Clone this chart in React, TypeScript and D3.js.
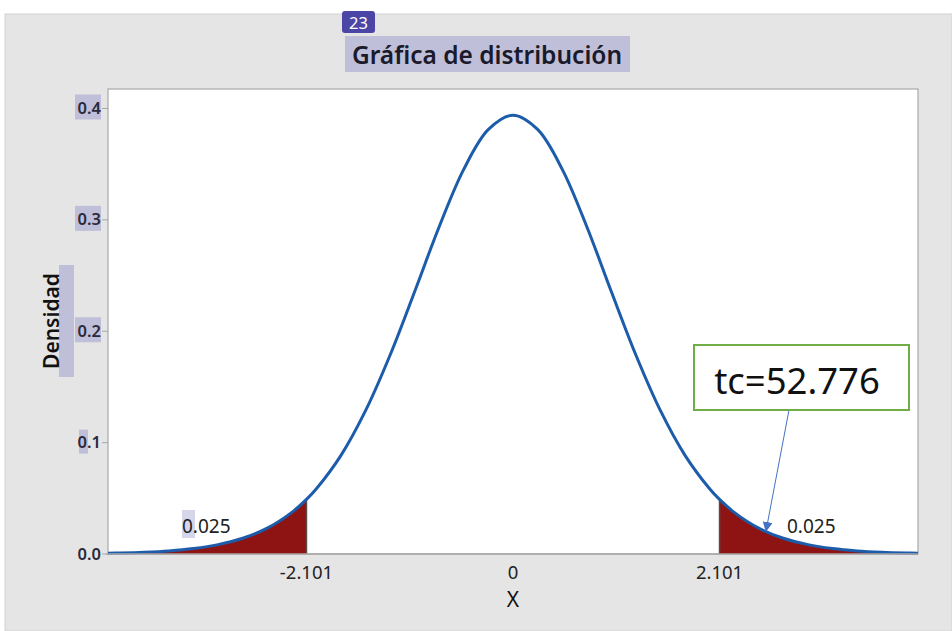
import React, { useEffect, useRef } from "react";
import * as d3 from "d3";

// t distribution, 18 df
const xValues = [
  -4.12, -4, -3.75, -3.5, -3.25, -3, -2.75, -2.5, -2.25, -2.101, -2, -1.75, -1.5, -1.25, -1, -0.75, -0.5, -0.25,
  0, 0.25, 0.5, 0.75, 1, 1.25, 1.5, 1.75, 2, 2.101, 2.25, 2.5, 2.75, 3, 3.25, 3.5, 3.75, 4, 4.12,
];
const densityValues = [
  0.0007, 0.0009, 0.0016, 0.0028, 0.0049, 0.0084, 0.0141, 0.0232, 0.0374, 0.049, 0.0586, 0.0886, 0.1287, 0.1787,
  0.2357, 0.2941, 0.3456, 0.3812, 0.394, 0.3812, 0.3456, 0.2941, 0.2357, 0.1787, 0.1287, 0.0886, 0.0586, 0.049,
  0.0374, 0.0232, 0.0141, 0.0084, 0.0049, 0.0028, 0.0016, 0.0009, 0.0007,
];
const yTicks = [0, 0.1, 0.2, 0.3, 0.4];
const xTicks = [-2.101, 0, 2.101];
const xTickLabels = ["-2.101", "0", "2.101"];
const critical = 2.101;
const tailLabel = "0.025";
const annotation = "tc=52.776";

const App = () => {
  const svgRef = useRef<SVGSVGElement>(null);
  const width = 952;
  const height = 631;

  useEffect(() => {
    const svg = d3.select(svgRef.current);
    svg.selectAll("*").remove();

    const plot = { left: 108, right: 918, top: 89, bottom: 554 };
    const font = "'Noto Sans', 'Open Sans', sans-serif";
    const hl = "#bfbfd9";

    const x = d3.scaleLinear().domain([-4.12, 4.12]).range([plot.left, plot.right]);
    const y = d3.scaleLinear().domain([0, 0.4]).range([plot.bottom, 108.5]);

    const pts = xValues.map((v, i) => ({ x: v, y: densityValues[i] }));

    // gray panel
    svg.append("rect").attr("width", width).attr("height", height).attr("fill", "#ffffff");
    svg.append("rect").attr("x", 5).attr("y", 14).attr("width", width - 5).attr("height", height - 14)
      .attr("fill", "#e5e5e5").attr("stroke", "#d2d2d2").attr("stroke-width", 1);

    // badge + title
    svg.append("rect").attr("x", 342).attr("y", 11).attr("width", 33).attr("height", 22).attr("rx", 3).attr("fill", "#4b45a6");
    svg.append("text").attr("x", 358.5).attr("y", 28.5).attr("text-anchor", "middle").attr("fill", "#fff")
      .attr("font-family", font).attr("font-size", 16.5).text("23");
    svg.append("rect").attr("x", 345).attr("y", 36).attr("width", 285).attr("height", 36).attr("fill", hl);
    svg.append("text").attr("x", 487).attr("y", 64).attr("text-anchor", "middle").attr("fill", "#1a1a2a")
      .attr("font-family", font).attr("font-weight", 600).attr("font-size", 24.5).text("Gráfica de distribución");

    // plot area
    svg.append("rect").attr("x", plot.left).attr("y", plot.top).attr("width", plot.right - plot.left)
      .attr("height", plot.bottom - plot.top).attr("fill", "#fff").attr("stroke", "#a8a8a8").attr("stroke-width", 1.2);

    // shaded tails
    const area = d3.area<{ x: number; y: number }>()
      .x((d) => x(d.x)).y0(y(0)).y1((d) => y(d.y)).curve(d3.curveCatmullRom);
    const leftTail = pts.filter((d) => d.x <= -critical);
    const rightTail = pts.filter((d) => d.x >= critical);
    [leftTail, rightTail].forEach((tail) => {
      svg.append("path").datum(tail).attr("d", area).attr("fill", "#8e1414");
    });
    [-critical, critical].forEach((c) => {
      const yv = densityValues[xValues.indexOf(c)];
      svg.append("line").attr("x1", x(c)).attr("x2", x(c)).attr("y1", y(0)).attr("y2", y(yv))
        .attr("stroke", "#5a4a4a").attr("stroke-width", 1.5);
    });

    // curve
    const line = d3.line<{ x: number; y: number }>().x((d) => x(d.x)).y((d) => y(d.y)).curve(d3.curveCatmullRom);
    svg.append("path").datum(pts).attr("d", line).attr("fill", "none")
      .attr("stroke", "#1c5caa").attr("stroke-width", 3);

    // x axis
    svg.append("line").attr("x1", plot.left - 2).attr("x2", plot.right).attr("y1", plot.bottom).attr("y2", plot.bottom)
      .attr("stroke", "#a8a8a8").attr("stroke-width", 1.5);
    xTicks.forEach((t, i) => {
      svg.append("text").attr("x", x(t)).attr("y", 579).attr("text-anchor", "middle").attr("fill", "#222")
        .attr("font-family", font).attr("font-size", 18.5).text(xTickLabels[i]);
    });
    svg.append("text").attr("x", x(0)).attr("y", 607).attr("text-anchor", "middle").attr("fill", "#111")
      .attr("font-family", font).attr("font-size", 21).text("X");

    // y axis
    yTicks.forEach((t) => {
      const yy = y(t);
      svg.append("line").attr("x1", plot.left - 6).attr("x2", plot.left).attr("y1", yy).attr("y2", yy)
        .attr("stroke", "#a8a8a8");
      if (t === 0.1) {
        svg.append("rect").attr("x", 79).attr("y", yy - 13).attr("width", 9).attr("height", 24).attr("fill", hl);
      } else if (t > 0) {
        svg.append("rect").attr("x", 75).attr("y", yy - 14).attr("width", 26).attr("height", 25).attr("fill", hl);
      }
      svg.append("text").attr("x", plot.left - 7).attr("y", yy + 5.5).attr("text-anchor", "end").attr("fill", "#2a2a3a")
        .attr("font-family", font).attr("font-weight", 600).attr("font-size", 16.5).text(d3.format(".1f")(t));
    });
    svg.append("rect").attr("x", 59).attr("y", 265).attr("width", 15).attr("height", 112).attr("fill", hl);
    svg.append("text").attr("transform", "translate(59,321) rotate(-90)").attr("text-anchor", "middle")
      .attr("fill", "#111").attr("font-family", font).attr("font-weight", 600).attr("font-size", 21).text("Densidad");

    // tail probabilities
    svg.append("rect").attr("x", 182).attr("y", 510).attr("width", 13).attr("height", 28).attr("fill", "#d6d6ea");
    svg.append("text").attr("x", 182).attr("y", 533).attr("fill", "#222").attr("font-family", font)
      .attr("font-size", 19).text(tailLabel);
    svg.append("text").attr("x", 787).attr("y", 533).attr("fill", "#222").attr("font-family", font)
      .attr("font-size", 19).text(tailLabel);

    // annotation box + arrow
    svg.append("defs").append("marker").attr("id", "arrow").attr("viewBox", "0 0 10 10").attr("refX", 9).attr("refY", 5)
      .attr("markerWidth", 10).attr("markerHeight", 10).attr("markerUnits", "userSpaceOnUse").attr("orient", "auto")
      .append("path").attr("d", "M0,0 L10,5 L0,10 z").attr("fill", "#4472c4");
    svg.append("line").attr("x1", 789).attr("y1", 410).attr("x2", 766).attr("y2", 531)
      .attr("stroke", "#4472c4").attr("stroke-width", 1).attr("marker-end", "url(#arrow)");
    svg.append("rect").attr("x", 694).attr("y", 345).attr("width", 215).attr("height", 65).attr("fill", "#fff")
      .attr("stroke", "#70ad47").attr("stroke-width", 2);
    svg.append("text").attr("x", 797).attr("y", 394).attr("text-anchor", "middle").attr("fill", "#111")
      .attr("font-family", font).attr("font-size", 36.5).text(annotation);
  }, []);

  return <svg ref={svgRef} width={width} height={height} style={{ position: "absolute", left: 0, top: 0 }} />;
};

export default App;
